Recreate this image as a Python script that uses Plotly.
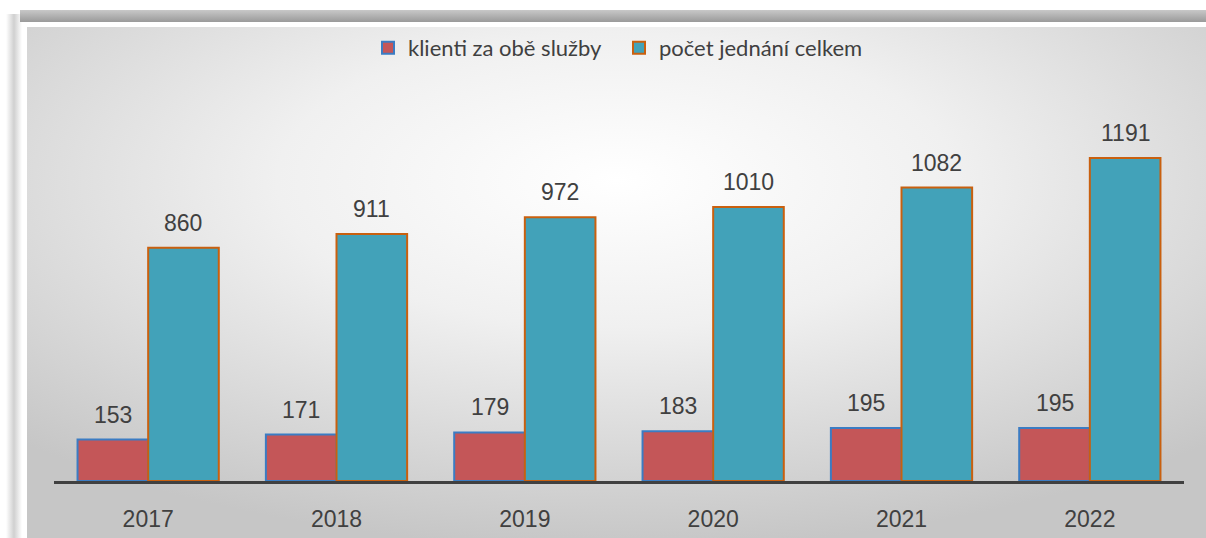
import base64
import plotly.graph_objects as go

years = ["2017", "2018", "2019", "2020", "2021", "2022"]
klienti = [153, 171, 179, 183, 195, 195]
jednani = [860, 911, 972, 1010, 1082, 1191]
series_names = ["klienti za obě služby", "počet jednání celkem"]

W, H = 1206, 538
L, R, T, B = 54, 22, 85, 57
pw, ph = W - L - R, H - T - B

idx = list(range(len(years)))
bw = 0.375

svg = f'''<svg xmlns="http://www.w3.org/2000/svg" width="{W}" height="{H}" viewBox="0 0 {W} {H}" preserveAspectRatio="none">
<defs>
<radialGradient id="g" cx="0.5" cy="0.3" r="0.72">
<stop offset="0" stop-color="#ffffff"/>
<stop offset="0.4" stop-color="#f0f0f0"/>
<stop offset="1" stop-color="#c6c6c6"/>
</radialGradient>
<linearGradient id="band" x1="0" y1="0" x2="0" y2="1">
<stop offset="0" stop-color="#c8c8c8"/>
<stop offset="1" stop-color="#9a9a9a"/>
</linearGradient>
<linearGradient id="side" x1="0" y1="0" x2="1" y2="0">
<stop offset="0" stop-color="#ffffff"/>
<stop offset="0.5" stop-color="#d0d0d0"/>
<stop offset="1" stop-color="#ffffff"/>
</linearGradient>
</defs>
<rect width="{W}" height="{H}" fill="#ffffff"/>
<rect x="6" y="14" width="16" height="{H-14}" fill="url(#side)"/>
<rect x="20" y="10" width="{W-20}" height="12" fill="url(#band)"/>
<rect x="27" y="27" width="{W-27}" height="{H-27}" fill="url(#g)"/>
</svg>'''
src = "data:image/svg+xml;base64," + base64.b64encode(svg.encode()).decode()

fig = go.Figure()
fig.add_trace(go.Bar(
    x=idx, y=klienti, name=series_names[0], offset=-bw, width=bw,
    marker=dict(color="#c45658", line=dict(color="#3b7cc3", width=2)),
))
fig.add_trace(go.Bar(
    x=idx, y=jednani, name=series_names[1], offset=0, width=bw,
    marker=dict(color="#42a2b9", line=dict(color="#c9600f", width=2)),
))

lab_font = dict(size=23, color="#404040", family="Liberation Sans, Arial")
anns = []
for i in idx:
    anns.append(dict(x=i - bw / 2, y=klienti[i], text=str(klienti[i]), showarrow=False,
                     yanchor="bottom", yshift=10, font=lab_font))
    anns.append(dict(x=i + bw / 2, y=jednani[i], text=str(jednani[i]), showarrow=False,
                     yanchor="bottom", yshift=10, font=lab_font))

fig.update_layout(
    width=W, height=H,
    margin=dict(l=L, r=R, t=T, b=B, pad=0, autoexpand=False),
    paper_bgcolor="#ffffff",
    plot_bgcolor="rgba(0,0,0,0)",
    barmode="overlay",
    showlegend=True,
    legend=dict(orientation="h", x=0.5, xanchor="center", y=1 + (T - 48) / ph,
                yanchor="middle", font=dict(size=22, color="#404040", family="Lato"),
                bgcolor="rgba(0,0,0,0)", itemwidth=30, entrywidth=206,
                entrywidthmode="pixels"),
    annotations=anns,
    images=[dict(source=src, xref="paper", yref="paper", x=-L / pw, y=1 + T / ph,
                 sizex=W / pw, sizey=H / ph, xanchor="left", yanchor="top",
                 sizing="stretch", layer="below")],
    xaxis=dict(range=[-0.5, 5.5], tickvals=idx, ticktext=years, showgrid=False,
               zeroline=False, showline=True, linecolor="#404040", linewidth=3,
               ticks="", ticklabelstandoff=15, automargin=False,
               tickfont=lab_font),
    yaxis=dict(range=[0, 1460], visible=False, showgrid=False, zeroline=False,
               automargin=False),
)

fig.write_html("out.html", config={"displayModeBar": False},
               post_script="document.body.style.margin='0';document.body.style.overflow='hidden';")
